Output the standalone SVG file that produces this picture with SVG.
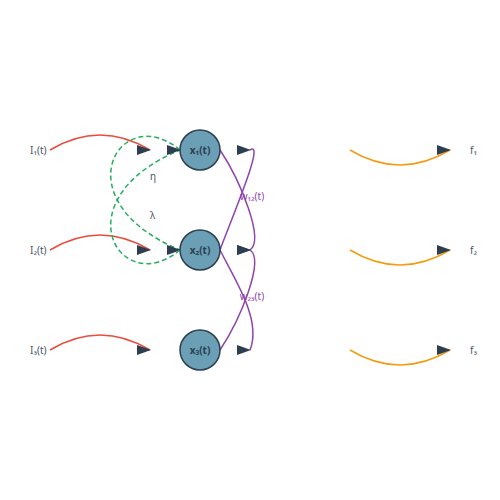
<svg xmlns="http://www.w3.org/2000/svg" width="500" height="500" viewBox="0 0 500 500">
<defs>
<marker id="arr" markerUnits="userSpaceOnUse" markerWidth="14" markerHeight="10" refX="13" refY="5" orient="0" viewBox="0 0 14 10">
<path d="M0,0 L14,5 L0,10 z" fill="#2c3e50"/>
</marker>
<style>
.lbl{font-family:"Noto Sans","DejaVu Sans",sans-serif;font-size:10px;fill:#4a5568}
.node circle{fill:#6a9fb5;stroke:#2c3e50;stroke-width:1.5}
.node text{font-family:"Noto Sans","DejaVu Sans",sans-serif;font-size:10px;font-weight:bold;fill:#2c3e50;text-anchor:middle}
.c{fill:none;stroke-width:1.5;marker-end:url(#arr)}
.in{stroke:#e74c3c}
.fb{stroke:#27ae60;stroke-dasharray:5,3}
.w{stroke:#8e44ad}
.out{stroke:#f39c12}
.wl{font-family:"Noto Sans","DejaVu Sans",sans-serif;font-size:10px;fill:#8e44ad;text-anchor:middle}
</style>
</defs>
<rect width="500" height="500" fill="#ffffff"/>
<g id="connectors">
<path class="c in" d="M50,150 Q100,120 150,150"/>
<path class="c in" d="M50,250 Q100,220 150,250"/>
<path class="c in" d="M50,350 Q100,320 150,350"/>
<path class="c fb" d="M180,150 C120,100 60,200 180,250"/>
<path class="c fb" d="M180,250 C120,300 60,200 180,150"/>
<path class="c w" d="M220,150 C240,180 265,240 250,250"/>
<path class="c w" d="M220,250 C235,210 265,140 250,150"/>
<path class="c w" d="M220,250 C235,280 262,320 250,350"/>
<path class="c w" d="M220,350 C240,320 265,260 250,250"/>
<path class="c out" d="M350,150 Q400,180 450,150"/>
<path class="c out" d="M350,250 Q400,280 450,250"/>
<path class="c out" d="M350,350 Q400,380 450,350"/>
</g>
<g id="labels">
<text class="lbl" x="30" y="154">I₁(t)</text>
<text class="lbl" x="30" y="254">I₂(t)</text>
<text class="lbl" x="30" y="354">I₃(t)</text>
<text class="lbl" x="470" y="154">f₁</text>
<text class="lbl" x="470" y="254">f₂</text>
<text class="lbl" x="470" y="354">f₃</text>
<text class="lbl" x="150" y="180">η</text>
<text class="lbl" x="150" y="219">λ</text>
<text class="wl" x="252" y="200">w₁₂(t)</text>
<text class="wl" x="252" y="300">w₂₃(t)</text>
</g>
<g id="node1" class="node"><circle cx="200" cy="150" r="20"/><text x="200" y="154">x₁(t)</text></g>
<g id="node2" class="node"><circle cx="200" cy="250" r="20"/><text x="200" y="254">x₂(t)</text></g>
<g id="node3" class="node"><circle cx="200" cy="350" r="20"/><text x="200" y="354">x₃(t)</text></g>
</svg>
